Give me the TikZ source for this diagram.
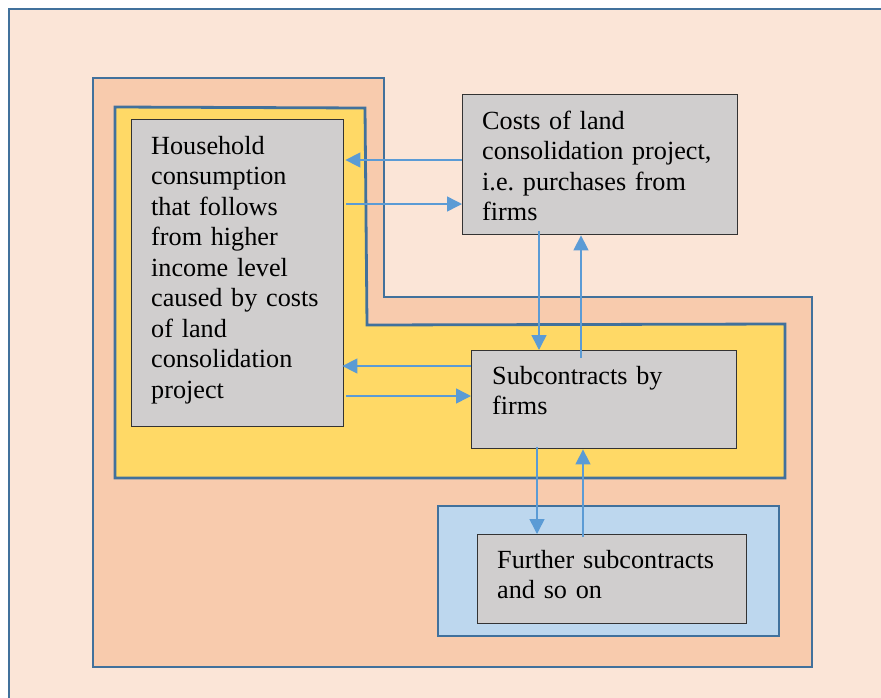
\documentclass[tikz,border=0pt]{standalone}
\usepackage{fontspec}
\setmainfont{Liberation Serif}
\usetikzlibrary{arrows.meta}
\frenchspacing
\definecolor{pagebg}{HTML}{FBE5D7}
\definecolor{salmon}{HTML}{F8CBAD}
\definecolor{yell}{HTML}{FFD966}
\definecolor{lblue}{HTML}{BDD7EE}
\definecolor{gbox}{HTML}{D0CECE}
\definecolor{frameblue}{HTML}{41719C}
\definecolor{arrblue}{HTML}{5B9BD5}
\tikzset{
  region/.style={draw=frameblue, line width=2.8pt, line join=miter},
  graybox/.style={draw=black!80, line width=1.4pt, fill=gbox, anchor=north west, inner sep=0pt},
  txt/.style={anchor=base west, inner sep=0pt, align=left, text width=260pt,
    font=\fontsize{26.2}{30.5}\selectfont},
  arr/.style={draw=arrblue, line width=1.5pt, -{Triangle[length=15pt,width=15pt]}}
}
\begin{document}
\begin{tikzpicture}[x=1pt,y=-1pt]
\useasboundingbox (0,0) rectangle (881,697);
% page
\fill[pagebg] (9,9) rectangle (890,705);
\draw[frameblue, line width=2.8pt] (9,705) -- (9,9) -- (890,9);
% salmon region
\path[region, fill=salmon] (93,78) -- (384,78) -- (384,297) -- (812,297) -- (812,667) -- (93,667) -- cycle;
% yellow region
\path[region, fill=yell] (115,107) -- (365,108) -- (367,325) -- (785,324) -- (785,478) -- (115,478) -- cycle;
% blue region
\path[region, fill=lblue] (438,506) rectangle (779,636);
% boxes
\node[graybox, minimum width=212pt, minimum height=307pt] (hh) at (131,119) {};
\node[graybox, minimum width=275pt, minimum height=140pt] (costs) at (462,94) {};
\node[graybox, minimum width=265pt, minimum height=98pt] (sub) at (471,350) {};
\node[graybox, minimum width=269pt, minimum height=89pt] (fur) at (477,534) {};
% texts
\node[txt] (hht) at (151,154) {Household\\consumption\\that follows\\from higher\\income level\\caused by costs\\of land\\consolidation\\project};
\node[txt] (costst) at (482,129) {Costs of land\\consolidation project,\\i.e. purchases from\\firms};
\node[txt] (subt) at (492,384) {Subcontracts by\\firms};
\node[txt] (furt) at (497,568) {Further subcontracts\\and so on};
% connectors
\draw[arr] (costs.west |- 0,160) -- ([xshift=1pt]hh.east |- 0,160);
\draw[arr] ([xshift=2pt]hh.east |- 0,204) -- (costs.west |- 0,204);
\draw[arr] ([yshift=4pt]costs.south -| 539,0) -- (sub.north -| 539,0);
\draw[arr] ([yshift=-8pt]sub.north -| 581,0) -- (costs.south -| 581,0);
\draw[arr] (sub.west |- 0,366) -- ([xshift=-2pt]hh.east |- 0,366);
\draw[arr] ([xshift=2pt]hh.east |- 0,396) -- (sub.west |- 0,396);
\draw[arr] ([yshift=2pt]sub.south -| 537,0) -- (fur.north -| 537,0);
\draw[arr] ([yshift=-3pt]fur.north -| 583,0) -- (sub.south -| 583,0);
\end{tikzpicture}
\end{document}
